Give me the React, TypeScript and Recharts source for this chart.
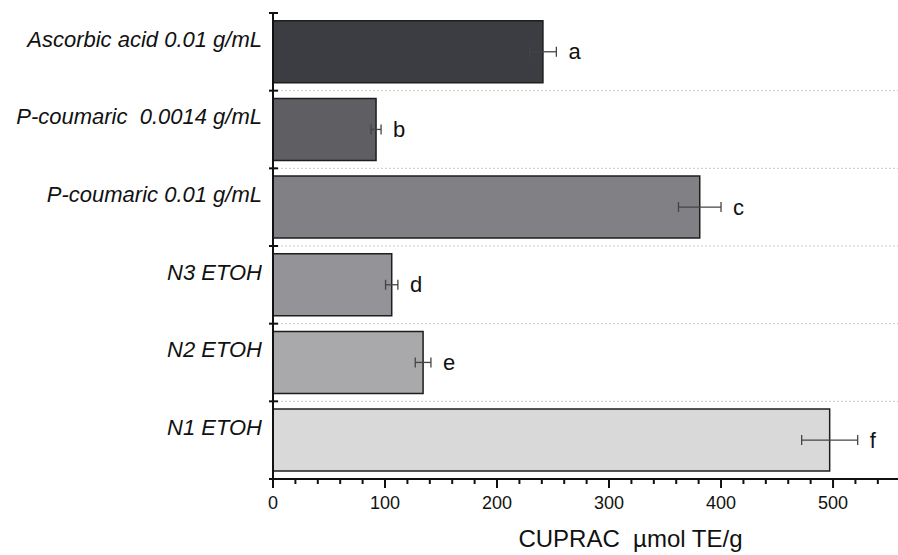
import React from 'react';
import { BarChart, Bar, XAxis, YAxis, CartesianGrid, ErrorBar, LabelList, Cell } from 'recharts';

const names = [
  'Ascorbic acid 0.01 g/mL',
  'P-coumaric  0.0014 g/mL',
  'P-coumaric 0.01 g/mL',
  'N3 ETOH',
  'N2 ETOH',
  'N1 ETOH',
];
const values = [241, 92, 381, 106, 134, 497];
const errors = [12, 4.5, 19, 5.5, 7, 25];
const letters = ['a', 'b', 'c', 'd', 'e', 'f'];
const colors = ['#3c3d42', '#5f5f63', '#818084', '#949397', '#a9a8ab', '#d9d9d9'];

const xTicks = [0, 20, 40, 60, 80, 100, 120, 140, 160, 180, 200, 220, 240, 260, 280, 300, 320, 340, 360, 380, 400, 420, 440, 460, 480, 500, 520, 540];
const yTicks = [0, 0.5, 1, 1.5, 2, 2.5, 3, 3.5, 4, 4.5, 5, 5.5, 6];
const gridValues = [1, 2, 3, 4, 5];

const data = names.map((name, i) => ({
  name,
  pos: i + 0.5,
  value: values[i],
  err: errors[i],
  letter: letters[i],
}));

const FONT = 'Arial, "Liberation Sans", sans-serif';

const YTick = (props: any) => {
  const { x, y, payload } = props;
  const v = payload.value;
  if (Number.isInteger(v)) {
    return <line x1={x - 4} x2={x + 5} y1={y} y2={y} stroke="#111" strokeWidth={2} />;
  }
  const label = names[Math.floor(v)];
  return (
    <text
      x={x - 11}
      y={y - 13}
      dy="0.35em"
      textAnchor="end"
      fontSize={22}
      fontStyle="italic"
      fontFamily={FONT}
      fill="#111"
      xmlSpace="preserve"
      style={{ whiteSpace: 'pre' }}
    >
      {label}
    </text>
  );
};

const XTick = (props: any) => {
  const { x, y, payload } = props;
  const v = payload.value;
  const major = v % 100 === 0;
  return (
    <g>
      <line x1={x} x2={x} y1={y} y2={y + (major ? 9 : 5)} stroke="#111" strokeWidth={2} />
      {major && (
        <text x={x} y={y + 24} dy="0.35em" textAnchor="middle" fontSize={18} fontFamily={FONT} fill="#111">
          {v}
        </text>
      )}
    </g>
  );
};

const LetterLabel = (props: any) => {
  const { x, y, width, height, value, index } = props;
  const d = data[index];
  const errPx = (width / d.value) * d.err;
  return (
    <text
      x={x + width + errPx + 12}
      y={y + height / 2}
      dy="0.35em"
      textAnchor="start"
      fontSize={22}
      fontFamily={FONT}
      fill="#111"
    >
      {value}
    </text>
  );
};

const AxisTitle = (props: any) => {
  const { viewBox } = props;
  return (
    <text
      x={viewBox.x + viewBox.width / 2 + 45}
      y={viewBox.y + viewBox.height - 8}
      textAnchor="middle"
      fontSize={24}
      fontFamily={FONT}
      fill="#111"
      xmlSpace="preserve"
      style={{ whiteSpace: 'pre' }}
    >
      {'CUPRAC  µmol TE/g'}
    </text>
  );
};

export default function App() {
  return (
    <div style={{ position: 'absolute', left: 0, top: 0, width: 898, height: 555, background: '#fff' }}>
      <BarChart
        width={898}
        height={555}
        data={data}
        layout="vertical"
        margin={{ top: 13, right: 0, left: 0, bottom: 0 }}
        barCategoryGap="10%"
      >
        <CartesianGrid
          horizontal={true}
          vertical={false}
          horizontalValues={gridValues}
          stroke="#c8c8c8"
          strokeDasharray="2 2"
        />
        <XAxis
          type="number"
          domain={[0, 558]}
          ticks={xTicks}
          interval={0}
          tickLine={false}
          tickSize={0}
          tickMargin={0}
          tick={<XTick />}
          axisLine={{ stroke: '#111', strokeWidth: 2 }}
          height={76}
          allowDataOverflow
          label={<AxisTitle />}
        />
        <YAxis
          type="number"
          dataKey="pos"
          domain={[0, 6]}
          ticks={yTicks}
          interval={0}
          tickLine={false}
          tickSize={0}
          tickMargin={0}
          tick={<YTick />}
          axisLine={{ stroke: '#111', strokeWidth: 2 }}
          width={273}
          allowDataOverflow
        />
        <Bar dataKey="value" stroke="#1e1e1e" strokeWidth={1.5} isAnimationActive={false}>
          {data.map((d, i) => (
            <Cell key={d.name} fill={colors[i]} />
          ))}
          <ErrorBar dataKey="err" direction="x" width={5} stroke="#444" strokeWidth={1.3} />
          <LabelList dataKey="letter" content={<LetterLabel />} />
        </Bar>
      </BarChart>
    </div>
  );
}
